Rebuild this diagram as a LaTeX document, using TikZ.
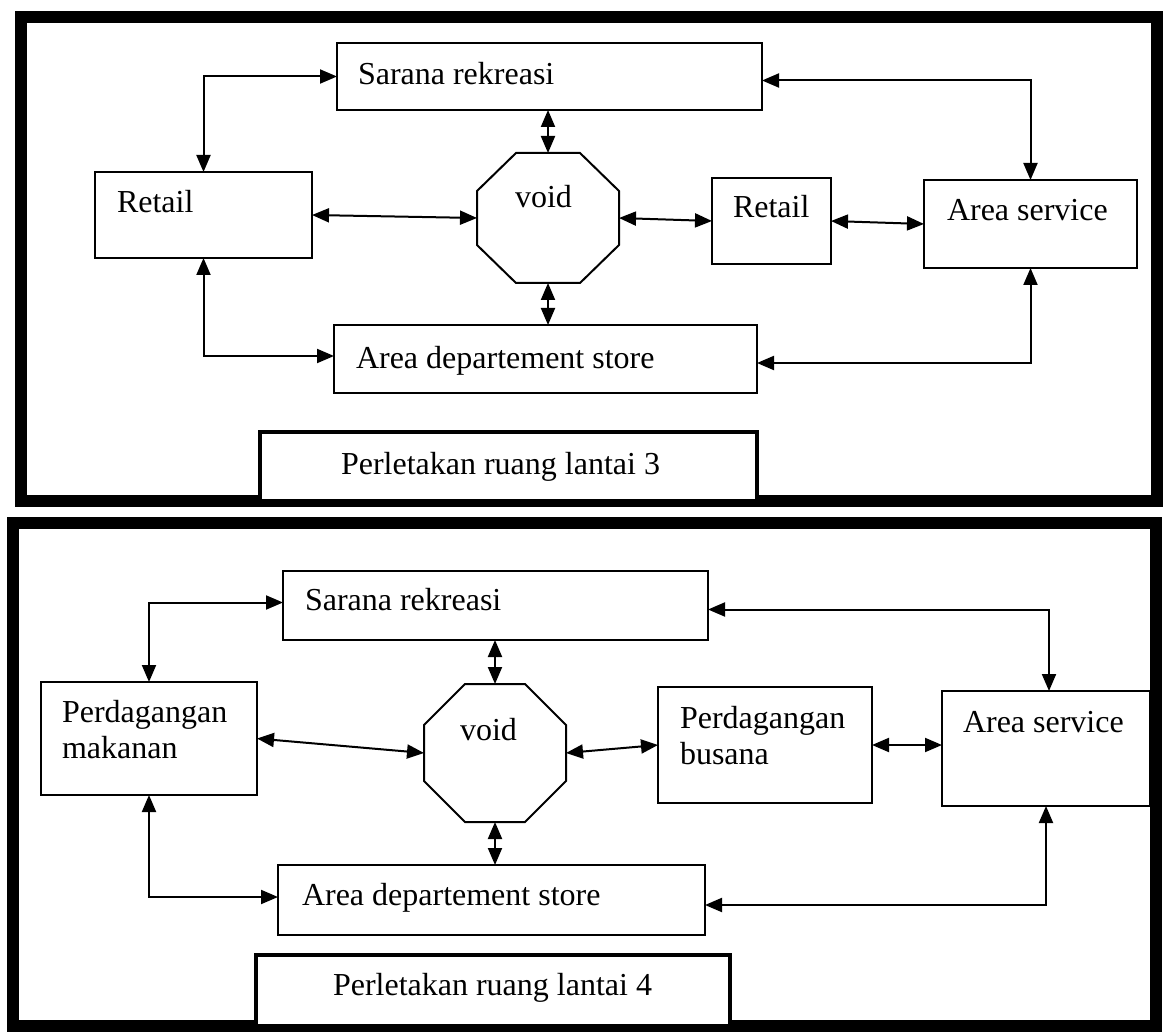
\documentclass[tikz,border=0pt]{standalone}
\usepackage{fontspec}
\setmainfont{Liberation Serif}
\usetikzlibrary{arrows.meta}

% octagon drawn inside the bounding rectangle of a named node: {node}{dx}{dy}
\newcommand\drawoct[3]{%
  \draw[room] ([xshift=#2pt]#1.north west) -- ([xshift=-#2pt]#1.north east)
    -- ([yshift=-#3pt]#1.north east) -- ([yshift=#3pt]#1.south east)
    -- ([xshift=-#2pt]#1.south east) -- ([xshift=#2pt]#1.south west)
    -- ([yshift=#3pt]#1.south west) -- ([yshift=-#3pt]#1.north west) -- cycle;}

\tikzset{
  every node/.style={font=\fontsize{32}{36}\selectfont, inner sep=0pt, outer sep=0pt},
  room/.style={draw, line width=2pt},
  hole/.style={minimum width=142pt},
  caption/.style={draw, line width=4pt, fill=white},
  panel/.style={line width=12pt},
  txt/.style={anchor=base west, align=left},
  link/.style={line width=2pt, >={Triangle[length=17pt,width=14pt]}, <->},
}

\begin{document}
\begin{tikzpicture}[x=1pt, y=-1pt]
\useasboundingbox (0,0) rectangle (1163,1035);

% ---------- floor 3 ----------
\draw[panel] (21,17) rectangle (1157,501);

\node[room, minimum width=425pt, minimum height=67pt] (sar1) at (549.5,76.5) {};
\node[room, minimum width=217pt, minimum height=86pt] (retA) at (203.5,215) {};
\node[hole, minimum height=130pt] (void1) at (548,218) {};
\drawoct{void1}{39}{38}
\node[room, minimum width=119pt, minimum height=86pt] (retB) at (771.5,221) {};
\node[room, minimum width=213pt, minimum height=88pt] (svc1) at (1030.5,224) {};
\node[room, minimum width=423pt, minimum height=68pt] (dept1) at (545.5,359) {};
\node[caption, minimum width=497pt, minimum height=69pt] (cap1) at (508.5,466.5) {};

\node[txt] (sar1t) at (358,85) {Sarana rekreasi};
\node[txt] (retAt) at (117,213) {Retail};
\node[txt] (void1t) at (515,208) {void};
\node[txt] (retBt) at (733,218) {Retail};
\node[txt] (svc1t) at (947,221) {Area service};
\node[txt] (dept1t) at (356,368) {Area departement store};
\node[txt] (cap1t) at (341,474) {Perletakan ruang lantai 3};

\draw[link] (retA.north) |- (sar1.west);
\draw[link] ([yshift=-4pt]sar1.east) -| (svc1.north);
\draw[link] (void1.north |- sar1.south) -- (void1.north);
\draw[link] (retA.east) -- (void1.west);
\draw[link] (void1.east) -- (retB.west);
\draw[link] (retB.east) -- (svc1.west);
\draw[link] (void1.south) -- (void1.south |- dept1.north);
\draw[link] (retA.south) |- ([yshift=3pt]dept1.west);
\draw[link] ([yshift=-4pt]dept1.east) -| (svc1.south);

% ---------- floor 4 ----------
\draw[panel] (13,523) rectangle (1156,1026);

\node[room, minimum width=425pt, minimum height=69pt] (sar2) at (495.5,605.5) {};
\node[room, minimum width=216pt, minimum height=113pt] (food) at (149,738.5) {};
\node[hole, minimum height=138pt] (void2) at (495,753) {};
\drawoct{void2}{41}{41}
\node[room, minimum width=214pt, minimum height=116pt] (fashion) at (765,745) {};
\node[room, minimum width=208pt, minimum height=115pt] (svc2) at (1046,748.5) {};
\node[room, minimum width=427pt, minimum height=70pt] (dept2) at (491.5,900) {};
\node[caption, minimum width=474pt, minimum height=71pt] (cap2) at (493,990.5) {};

\node[txt] (sar2t) at (305,610) {Sarana rekreasi};
\node[txt] (foodt) at (62,758) {Perdagangan\\makanan};
\node[txt] (void2t) at (460,740) {void};
\node[txt] (fashiont) at (680,764) {Perdagangan\\busana};
\node[txt] (svc2t) at (963,732) {Area service};
\node[txt] (dept2t) at (302,905) {Area departement store};
\node[txt] (cap2t) at (333,995) {Perletakan ruang lantai 4};

\draw[link] (food.north) |- ([yshift=3pt]sar2.west);
\draw[link] ([yshift=-4pt]sar2.east) -| ([xshift=3pt]svc2.north);
\draw[link] (void2.north |- sar2.south) -- (void2.north);
\draw[link] (food.east) -- (void2.west);
\draw[link] (void2.east) -- (fashion.west);
\draw[link] (fashion.east) -- (fashion.east -| svc2.west);
\draw[link] (void2.south) -- (void2.south |- dept2.north);
\draw[link] (food.south) |- ([yshift=3pt]dept2.west);
\draw[link] ([yshift=-5pt]dept2.east) -| (svc2.south);
\end{tikzpicture}
\end{document}
